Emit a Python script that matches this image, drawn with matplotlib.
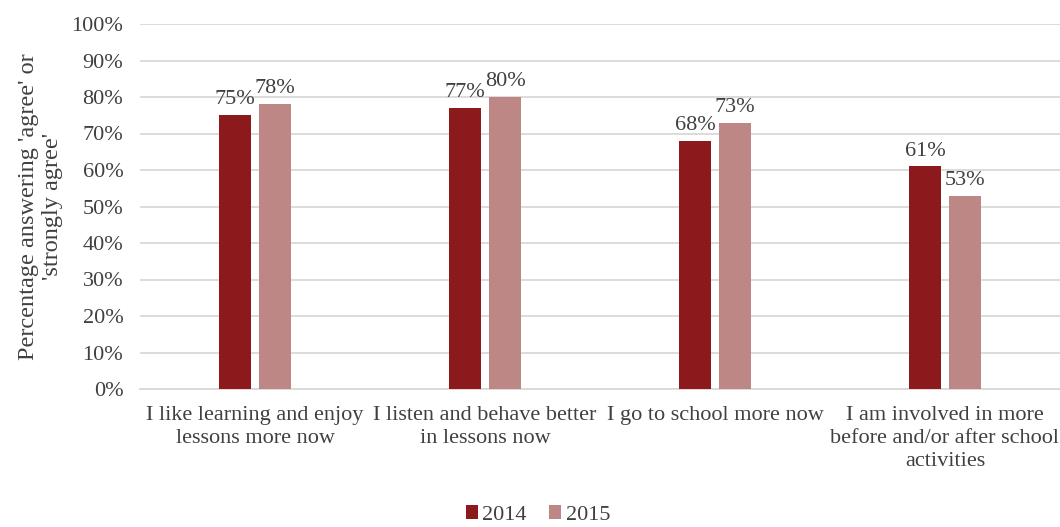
#!/usr/bin/env python

import numpy as np
import matplotlib
matplotlib.use('Agg')
import matplotlib.pyplot as plt


categories = ['I like learning and enjoy\nlessons more now',
              'I listen and behave better\nin lessons now',
              'I go to school more now',
              'I am involved in more\nbefore and/or after school\nactivities']
years = ['2014', '2015']
values_2014 = [75, 77, 68, 61]
values_2015 = [78, 80, 73, 53]
y_ticks = [0, 10, 20, 30, 40, 50, 60, 70, 80, 90, 100]

dark_red = '#8c1a1d'
pink = '#bd8786'
text_col = '#404040'

plt.rcParams['font.family'] = ['Liberation Serif', 'DejaVu Serif']

fig = plt.figure(figsize=(10.6, 5.27), dpi=100)
ax = fig.add_axes([140 / 1060, 1 - 389 / 527, 920 / 1060, 365 / 527])

x = np.arange(len(categories))
w = 0.139
off = 0.087
b1 = ax.bar(x - off, values_2014, w, color=dark_red, label=years[0], zorder=3)
b2 = ax.bar(x + off, values_2015, w, color=pink, label=years[1], zorder=3)

for bars in (b1, b2):
    for b in bars:
        ax.text(b.get_x() + b.get_width() / 2, b.get_height() + 1.6,
                '%d%%' % b.get_height(), ha='center', va='bottom',
                fontsize=16, color=text_col)

ax.set_xlim(-0.5, len(categories) - 0.5)
ax.set_ylim(0, 100)
ax.set_yticks(y_ticks)
ax.set_yticklabels(['%d%%' % t for t in y_ticks])
ax.set_xticks(x)
ax.set_xticklabels(categories, linespacing=1.3)
ax.tick_params(axis='both', length=0, labelsize=16, colors=text_col)
ax.tick_params(axis='y', pad=12)
ax.tick_params(axis='x', pad=12)
ax.yaxis.grid(True, color='#d9d9d9', linewidth=1.3, zorder=0)
for s in ('top', 'right', 'left'):
    ax.spines[s].set_visible(False)
ax.spines['bottom'].set_color('#d9d9d9')
ax.spines['bottom'].set_linewidth(1.3)

ax.set_ylabel("Percentage answering 'agree' or\n'strongly agree'",
              fontsize=17.5, color=text_col, labelpad=6, linespacing=1.2)

fig.legend(handles=[b1, b2], labels=years, loc='center',
           bbox_to_anchor=(538 / 1060, 1 - 515 / 527), ncol=2, frameon=False,
           fontsize=16, handlelength=0.55, handleheight=0.55,
           handletextpad=0.2, columnspacing=1.0, labelcolor=text_col)

fig.savefig('out.png', dpi=100)
